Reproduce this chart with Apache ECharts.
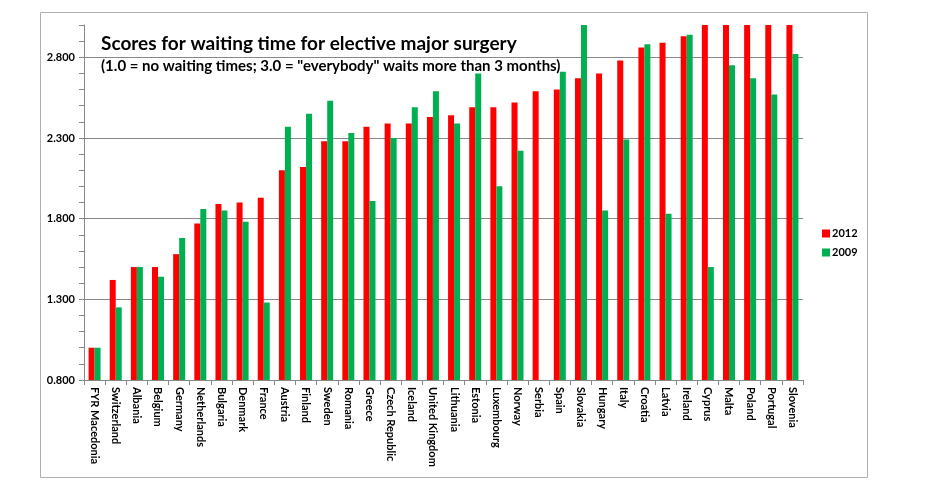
<!DOCTYPE html>
<html><head><meta charset="utf-8">
<script src="https://cdn.jsdelivr.net/npm/echarts@6/dist/echarts.min.js"></script>
<style>html,body{margin:0;padding:0;background:#fff}#c{width:936px;height:492px}</style>
</head><body><div id="c"></div>
<script>
const categories = ["FYR Macedonia","Switzerland","Albania","Belgium","Germany","Netherlands","Bulgaria","Denmark","France","Austria","Finland","Sweden","Romania","Greece","Czech Republic","Iceland","United Kingdom","Lithuania","Estonia","Luxembourg","Norway","Serbia","Spain","Slovakia","Hungary","Italy","Croatia","Latvia","Ireland","Cyprus","Malta","Poland","Portugal","Slovenia"];
const values2012 = [1.0,1.42,1.5,1.5,1.58,1.77,1.89,1.9,1.93,2.1,2.12,2.28,2.28,2.37,2.39,2.39,2.43,2.44,2.49,2.49,2.52,2.59,2.6,2.67,2.7,2.78,2.86,2.89,2.93,3.0,3.0,3.0,3.0,3.0];
const values2009 = [1.0,1.25,1.5,1.44,1.68,1.86,1.85,1.78,1.28,2.37,2.45,2.53,2.33,1.91,2.3,2.49,2.59,2.39,2.7,2.0,2.22,null,2.71,3.0,1.85,2.29,2.88,1.83,2.94,1.5,2.75,2.67,2.57,2.82];
const yTicks = [0.8,1.3,1.8,2.3,2.8];
const titleText = "Scores for waiting time for elective major surgery";
const subtitleText = '(1.0 = no waiting times; 3.0 = "everybody" waits more than 3 months)';

const chart = echarts.init(document.getElementById('c'), null, {renderer:'canvas'});
const F = 'Lato, "Open Sans", sans-serif';
chart.setOption({
  animation:false,
  backgroundColor:'#fff',
  graphic:[{type:'rect',shape:{x:40.5,y:12.5,width:827,height:465},style:{fill:'none',stroke:'#b0b0b0',lineWidth:1},z:-1}],
  title:[
    {text:titleText,left:96,top:29,textStyle:{fontFamily:F,fontSize:19,fontWeight:'bold',color:'#000'}},
    {text:subtitleText,left:96,top:54,textStyle:{fontFamily:F,fontSize:15,fontWeight:'bold',color:'#000'}}
  ],
  legend:{orient:'vertical',left:817,top:223,itemWidth:8,itemHeight:8,itemGap:8,icon:'rect',
    textStyle:{fontFamily:F,fontSize:11,fontWeight:'bold',color:'#000',padding:[0,0,0,-3]},data:['2012','2009']},
  grid:{left:84,right:133,top:25,bottom:112,containLabel:false},
  xAxis:{type:'category',data:categories,
    axisLine:{lineStyle:{color:'#888'}},
    axisTick:{show:true,alignWithLabel:false,length:5,lineStyle:{color:'#888'}},
    axisLabel:{rotate:-90,interval:0,margin:7,fontFamily:F,fontSize:11,fontWeight:'bold',color:'#000'}},
  yAxis:{type:'value',min:0.8,max:3.0,interval:0.5,
    axisLine:{show:true,lineStyle:{color:'#888'}},
    axisTick:{show:true,length:5,lineStyle:{color:'#888'}},
    minorTick:{show:true,splitNumber:5,length:5,lineStyle:{color:'#888'}},
    splitLine:{show:true,lineStyle:{color:['#888','#888','#888','#888','#888','rgba(0,0,0,0)'],width:1}},
    axisLabel:{showMaxLabel:false,margin:9,fontFamily:F,fontSize:11,fontWeight:'bold',color:'#000',
      formatter:v=>yTicks.some(t=>Math.abs(t-v)<1e-6)?v.toFixed(3):''}},
  series:[
    {name:'2012',type:'bar',data:values2012,barWidth:6,barGap:'0%',itemStyle:{color:'#ff0000'}},
    {name:'2009',type:'bar',data:values2009,barWidth:6,barGap:'0%',itemStyle:{color:'#00b050'}}
  ]
});
</script></body></html>
